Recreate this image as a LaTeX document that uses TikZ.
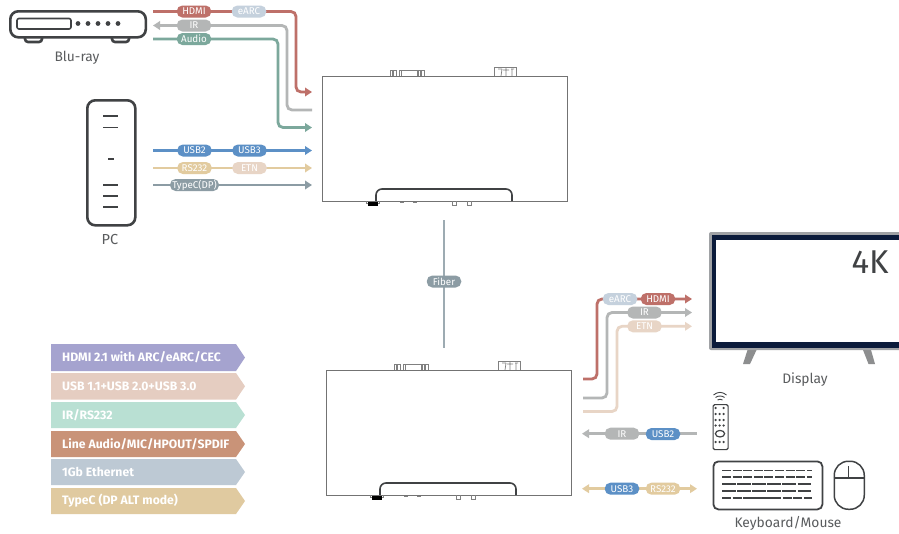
\documentclass[tikz,border=0pt]{standalone}
\usepackage{fontspec}
\setmainfont{Fira Sans}
\usetikzlibrary{arrows.meta,calc}
\definecolor{cred}{HTML}{BE7069}
\definecolor{cgray}{HTML}{B4B6B6}
\definecolor{cteal}{HTML}{7CA89C}
\definecolor{cblue}{HTML}{5C90C6}
\definecolor{cyel}{HTML}{E2CB9F}
\definecolor{cpeach}{HTML}{E8D5C6}
\definecolor{cslate}{HTML}{8C9CA4}
\definecolor{cearc}{HTML}{C5D1DD}
\definecolor{cdark}{HTML}{404244}
\definecolor{ctext}{HTML}{5A5C5E}
\definecolor{cnavy}{HTML}{0B1B3B}
\definecolor{cframe}{HTML}{A0A2A5}
\tikzset{
  wire/.style={line width=2.8pt,rounded corners=5pt,line cap=butt},
  tipped/.style={wire,-{Triangle[length=7pt,width=8.5pt]}},
  backtip/.style={wire,{Triangle[length=7pt,width=8.5pt]}-},
  bothtip/.style={wire,{Triangle[length=7pt,width=8.5pt]}-{Triangle[length=7pt,width=8.5pt]}},
  pill/.style={rounded corners=5.6pt,minimum height=12pt,minimum width=34.5pt,inner sep=0pt,text=white,font=\fontsize{9.8}{10}\selectfont},
  devtext/.style={text=ctext,font=\fontsize{13.8}{15}\selectfont,inner sep=0pt},
  icon/.style={draw=cdark,line width=2.6pt,rounded corners=6pt},
  iconline/.style={draw=cdark,line width=1.9pt},
  thinicon/.style={draw=cdark,line width=1.2pt},
  chassis/.style={draw=black!55,line width=1.3pt,minimum width=245pt,minimum height=125pt,inner sep=0pt,anchor=north west},
  portline/.style={draw=black!50,line width=.7pt},
  banner/.style={text=white,font=\fontsize{12.2}{14}\selectfont\bfseries,inner sep=0pt,anchor=west}
}
\newcommand{\chassisdetail}[1]{%
  \begin{scope}[shift={(#1)}]
    \draw[portline] (68,0)--(68,-6)--(74,-6)--(74,0) (70.5,0)--(70.5,-6) (71.5,0)--(71.5,-6);
    \draw[portline] (77,0)--(77,-6)--(95,-6)--(95,0) (79,-6)--(79,0);
    \draw[portline] (96,0)--(96,-6)--(102,-6)--(102,0) (98.5,0)--(98.5,-6) (99.5,0)--(99.5,-6);
    \draw[portline] (172,0)--(172,-9)--(194,-9)--(194,0);
    \draw[portline] (176,-7)--(180,-7) (180,-7)--(179,0) (184,-9)--(184,0) (181,-6)--(187,-6) (189,-7)--(192,-7) (190,-7)--(190,0);
    \draw[draw=cdark,line width=1.6pt,rounded corners=6pt] (54,125)--(54,113)--(190,113)--(190,125);
    \draw[portline] (44,125)--(44,127)--(57,127)--(57,125);
    \fill[black] (46,125.5) rectangle (56,130);
    \draw[portline] (130,125)--(130,129)--(134,129)--(134,125);
    \draw[portline] (145,125)--(145,129)--(149,129)--(149,125);
    \draw[portline] (78,126)--(82,126) (91,126)--(95,126);
  \end{scope}}
\begin{document}
\begin{tikzpicture}[x=1pt,y=-1pt]
\useasboundingbox (0,0) rectangle (899,533);
\fill[white] (0,0) rectangle (899,533);

% ---------- Blu-ray
\node[icon,rounded corners=8pt,minimum width=135.5pt,minimum height=26pt,inner sep=0pt,anchor=north west,fill=white] (bluray) at (9,10) {};
\draw[icon,rounded corners=3pt] (25,37)--(25,42)--(42,42)--(42,37);
\draw[icon,rounded corners=3pt] (112,37)--(112,42)--(129,42)--(129,37);
\draw[draw=cdark,line width=1.6pt,rounded corners=2pt] (17,18.5) rectangle (71,29);
\foreach \dx in {78,88,98,108,118} \fill[cdark] (\dx,23.5) circle (2.4pt);
\node[devtext] (blulabel) at (77,57.5) {Blu-ray};

% ---------- PC
\node[icon,rounded corners=8pt,minimum width=48pt,minimum height=125pt,inner sep=0pt,anchor=north west] (pc) at (86,99) {};
\foreach \ly in {116,127.5,185,196,207} \draw[iconline] (103,\ly)--(118,\ly);
\draw[iconline] (108,159)--(113.5,159);
\node[devtext,font=\fontsize{14.5}{15}\selectfont] (pclabel) at (110,240) {PC};

% ---------- Chassis
\node[chassis] (tx) at (322,76) {};
\node[chassis] (rx) at (326,370) {};
\chassisdetail{322,76}
\chassisdetail{326,370}

% ---------- Coordinates of free ends
\coordinate (bh) at (153,11.5);  \coordinate (bi) at (153,25.5);  \coordinate (ba) at (153,39);
\coordinate (th) at (312,92);    \coordinate (ti) at (312,110);   \coordinate (ta) at (312,127.5);
\coordinate (pu) at (153,150.5); \coordinate (pr) at (153,168);   \coordinate (pt) at (153,185);
\coordinate (tu) at (312,150.5); \coordinate (tr) at (312,168);   \coordinate (tt) at (312,185);
\coordinate (fa) at (444,220);   \coordinate (fb) at (444,348);
\coordinate (rh) at (583,379);   \coordinate (ri) at (583,398);   \coordinate (re) at (583,411.5);
\coordinate (dh) at (692,299);   \coordinate (di) at (692,312.5); \coordinate (de) at (692,326.3);
\coordinate (rmL) at (582,433.7); \coordinate (rmR) at (697,433.7);
\coordinate (kbL) at (582,488.7); \coordinate (kbR) at (697,488.7);

% ---------- Connectors
\draw[tipped,cred] (bh) -| (296,92) -- (th);
\draw[backtip,cgray] (bi) -| (287,110) -- (ti);
\draw[tipped,cteal] (ba) -| (278,127.5) -- (ta);
\draw[tipped,cblue] (pu)--(tu);
\draw[tipped,cyel] (pr)--(tr);
\draw[tipped,cslate] (pt)--(tt);
\draw[line width=2pt,draw=cslate!85] (fa)--(fb);
\draw[tipped,cred] (rh) -| (597,299) -- (dh);
\draw[tipped,cgray] (ri) -| (607,312.5) -- (di);
\draw[tipped,cpeach] (re) -| (617,326.3) -- (de);
\draw[backtip,cgray] (rmL)--(rmR);
\draw[bothtip,cyel] (kbL)--(kbR);

% ---------- Pills
\node[pill,fill=cred]   (p1) at (194,11.5) {HDMI};
\node[pill,fill=cearc]  (p2) at (249,11.5) {eARC};
\node[pill,fill=cgray]  (p3) at (194,25.5) {IR};
\node[pill,fill=cteal]  (p4) at (194,39) {Audio};
\node[pill,fill=cblue]  (p5) at (194.5,150.5) {USB2};
\node[pill,fill=cblue]  (p6) at (249.5,150.5) {USB3};
\node[pill,fill=cyel]   (p7) at (194.5,168) {RS232};
\node[pill,fill=cpeach] (p8) at (249.5,168) {ETN};
\node[pill,fill=cslate,minimum width=49pt] (p9) at (194.5,185) {TypeC(DP)};
\node[pill,fill=cslate] (p10) at (444,281.5) {Fiber};
\node[pill,fill=cearc]  (p11) at (620,299) {eARC};
\node[pill,fill=cred]   (p12) at (658,299) {HDMI};
\node[pill,fill=cgray]  (p13) at (644.5,312.5) {IR};
\node[pill,fill=cpeach] (p14) at (644.5,326.3) {ETN};
\node[pill,fill=cgray]  (p15) at (622,433.7) {IR};
\node[pill,fill=cblue]  (p16) at (663,434) {USB2};
\node[pill,fill=cblue]  (p17) at (622,488.7) {USB3};
\node[pill,fill=cyel]   (p18) at (663,488.7) {RS232};

% ---------- Display
\fill[cdark!60,draw=none] (747.5,350)--(756.5,350)--(750,364)--(743,364)--cycle;
\fill[cdark!60,draw=none] (863,350)--(871,350)--(875,364)--(868.5,364)--cycle;
\fill[cframe,rounded corners=2pt] (709,232) rectangle (905,350);
\fill[cnavy] (711.5,234.5) rectangle (905,347.5);
\node[fill=white,minimum width=190pt,minimum height=102pt,inner sep=0pt,anchor=north west] (display) at (715.5,240) {};
\node[text=cdark,font=\fontsize{33}{35}\selectfont,inner sep=0pt] (fourk) at (870,262) {4K};
\node[devtext] (displabel) at (805,379.5) {Display};

% ---------- Remote
\node[thinicon,rounded corners=1.5pt,minimum width=15pt,minimum height=45pt,inner sep=0pt,anchor=north west] (remote) at (712.5,404) {};
\foreach \rx/\ry in {715.5/408,723.5/408,715.5/414,719.5/414,723.5/414,715.5/420,719.5/420,723.5/420,715.5/425.5,719.5/425.5,723.5/425.5,715.5/442,719.5/442,723.5/442}
  \fill[cdark] (\rx,\ry) circle (1.25pt);
\draw[thinicon] (720,433.7) ellipse (4.6pt and 3.3pt);
\draw[thinicon,line width=.9pt] (713.5,395) .. controls (717.5,391.5) and (722.5,391.5) .. (726.5,395);
\draw[thinicon,line width=.9pt] (715.5,397.5) .. controls (718,395.5) and (722,395.5) .. (724.5,397.5);
\draw[thinicon,line width=.9pt] (717.5,400) .. controls (719,399) and (721,399) .. (722.5,400);

% ---------- Keyboard
\node[icon,line width=1.8pt,rounded corners=5pt,minimum width=109pt,minimum height=48pt,inner sep=0pt,anchor=north west] (kbd) at (712.5,460.5) {};
\foreach \ky in {470.5,477}
  \draw[draw=cdark,line width=1.9pt,dash pattern=on 9pt off 1.6pt] (722,\ky)--(812,\ky);
\foreach \ky in {484,491}
  \draw[draw=cdark,line width=1.9pt,dash pattern=on 13.5pt off 1.6pt] (722,\ky)--(812,\ky);
\draw[draw=cdark,line width=1.9pt,dash pattern=on 9pt off 1.6pt on 9pt off 1.6pt on 38pt off 1.6pt on 9pt off 1.6pt on 9pt off 1.6pt] (722,498)--(812,498);

% ---------- Mouse
\node[draw=cdark,line width=1.5pt,rounded corners=14pt,minimum width=30pt,minimum height=48pt,inner sep=0pt,anchor=north west] (mouse) at (833.5,460.5) {};
\draw[draw=cdark,line width=1.2pt] (833.5,478)--(863.5,478) (848.5,466)--(848.5,478);
\node[devtext] (kblabel) at (788,523) {Keyboard/Mouse};

% ---------- Legend
\foreach \ty/\by/\col/\lab/\nm in {344/371/A5A3CF/HDMI 2.1 with ARC\slash eARC\slash CEC/la,
   373/399.6/E5CDC1/USB 1.1+USB 2.0+USB 3.0/lb,
   402/428/B9E0D3/IR\slash RS232/lc,
   431/457/C99378/Line Audio\slash MIC\slash HPOUT\slash SPDIF/ld,
   459/485/BDC9D4/1Gb Ethernet/le,
   488/514/E0CAA0/TypeC (DP ALT mode)/lf}{
  \definecolor{bannercol}{HTML}{\col}
  \fill[bannercol] (51,\ty)--(236,\ty)--(245,{(\ty+\by)/2})--(236,\by)--(51,\by)--cycle;
  \node[banner] (\nm) at (62,{(\ty+\by)/2}) {\lab};
}
\end{tikzpicture}
\end{document}
